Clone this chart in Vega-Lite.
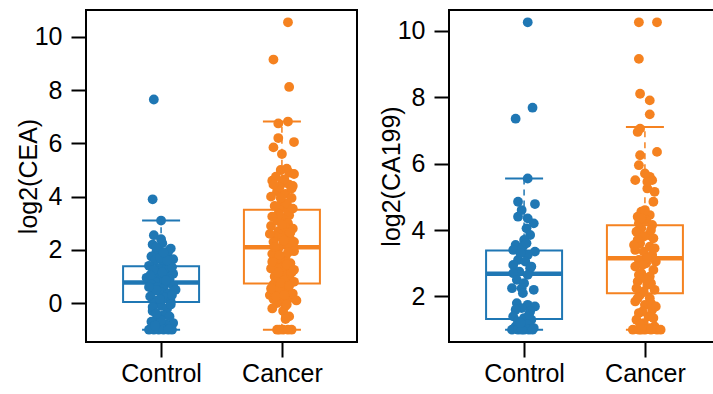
{
  "$schema": "https://vega.github.io/schema/vega-lite/v6.json",
  "autosize": {"type": "pad"},
  "padding": {"left": 15, "top": 9, "right": -8, "bottom": 0},
  "spacing": 92,
  "bounds": "flush",
  "background": "white",
  "config": {
    "view": {"stroke": "black", "strokeWidth": 2},
    "axis": {
      "labelFont": "Liberation Sans", "labelFontSize": 25, "labelColor": "black",
      "titleFont": "Liberation Sans", "titleFontSize": 25, "titleFontWeight": "normal", "titleColor": "black",
      "tickColor": "black", "tickSize": 15, "tickWidth": 2, "domain": false, "grid": false
    },
    "axisX": {"labelPadding": 4},
    "axisY": {"labelPadding": 9, "titleX": -50, "titleBaseline": "alphabetic"}
  },
  "datasets": {
    "boxes": [
      {"p": "CEA", "g": "Control", "x": 1, "lo": -1, "q1": 0.04, "med": 0.77, "q3": 1.38, "hi": 3.1},
      {"p": "CEA", "g": "Cancer", "x": 2, "lo": -1, "q1": 0.74, "med": 2.1, "q3": 3.51, "hi": 6.82},
      {"p": "CA199", "g": "Control", "x": 1, "lo": 1, "q1": 1.32, "med": 2.68, "q3": 3.38, "hi": 5.55},
      {"p": "CA199", "g": "Cancer", "x": 2, "lo": 1, "q1": 2.1, "med": 3.15, "q3": 4.14, "hi": 7.1}
    ],
    "points": [
      {"p":"CEA","g":"Control","x":0.94,"y":7.65},{"p":"CEA","g":"Control","x":0.93,"y":3.9},{"p":"CEA","g":"Control","x":1.0,"y":3.1},
      {"p":"CEA","g":"Control","x":0.94,"y":2.55},{"p":"CEA","g":"Control","x":1.0,"y":2.4},{"p":"CEA","g":"Control","x":0.93,"y":2.2},
      {"p":"CEA","g":"Control","x":1.08,"y":2.05},{"p":"CEA","g":"Control","x":0.98,"y":2.0},{"p":"CEA","g":"Control","x":0.96,"y":1.9},
      {"p":"CEA","g":"Control","x":1.05,"y":1.85},{"p":"CEA","g":"Control","x":0.92,"y":1.75},{"p":"CEA","g":"Control","x":1.1,"y":1.65},
      {"p":"CEA","g":"Control","x":0.95,"y":1.6},{"p":"CEA","g":"Control","x":1.02,"y":1.55},{"p":"CEA","g":"Control","x":1.07,"y":1.45},
      {"p":"CEA","g":"Control","x":0.9,"y":1.4},{"p":"CEA","g":"Control","x":0.98,"y":1.3},{"p":"CEA","g":"Control","x":1.04,"y":1.25},
      {"p":"CEA","g":"Control","x":0.93,"y":1.15},{"p":"CEA","g":"Control","x":1.1,"y":1.1},{"p":"CEA","g":"Control","x":0.97,"y":1.05},
      {"p":"CEA","g":"Control","x":1.03,"y":1.0},{"p":"CEA","g":"Control","x":0.88,"y":0.95},{"p":"CEA","g":"Control","x":1.07,"y":0.9},
      {"p":"CEA","g":"Control","x":0.99,"y":0.85},{"p":"CEA","g":"Control","x":0.95,"y":0.8},{"p":"CEA","g":"Control","x":1.05,"y":0.75},
      {"p":"CEA","g":"Control","x":0.92,"y":0.7},{"p":"CEA","g":"Control","x":1.1,"y":0.65},{"p":"CEA","g":"Control","x":0.97,"y":0.6},
      {"p":"CEA","g":"Control","x":1.02,"y":0.55},{"p":"CEA","g":"Control","x":1.12,"y":0.5},{"p":"CEA","g":"Control","x":0.94,"y":0.45},
      {"p":"CEA","g":"Control","x":1.0,"y":0.4},{"p":"CEA","g":"Control","x":1.06,"y":0.35},{"p":"CEA","g":"Control","x":0.91,"y":0.25},
      {"p":"CEA","g":"Control","x":1.03,"y":0.2},{"p":"CEA","g":"Control","x":0.97,"y":0.1},{"p":"CEA","g":"Control","x":1.08,"y":0.05},
      {"p":"CEA","g":"Control","x":0.95,"y":0.0},{"p":"CEA","g":"Control","x":1.0,"y":-0.1},{"p":"CEA","g":"Control","x":1.05,"y":-0.2},
      {"p":"CEA","g":"Control","x":0.93,"y":-0.3},{"p":"CEA","g":"Control","x":1.02,"y":-0.45},{"p":"CEA","g":"Control","x":0.97,"y":-0.55},
      {"p":"CEA","g":"Control","x":0.92,"y":-0.7},{"p":"CEA","g":"Control","x":1.1,"y":-0.75},{"p":"CEA","g":"Control","x":1.04,"y":-0.8},
      {"p":"CEA","g":"Control","x":0.96,"y":-0.9},{"p":"CEA","g":"Control","x":0.94,"y":-1},{"p":"CEA","g":"Control","x":0.98,"y":-1},
      {"p":"CEA","g":"Control","x":1.02,"y":-1},{"p":"CEA","g":"Control","x":1.09,"y":-1},{"p":"CEA","g":"Control","x":1.06,"y":-1},
      {"p":"CEA","g":"Control","x":0.9,"y":-1},{"p":"CEA","g":"Control","x":1.01,"y":2.25},{"p":"CEA","g":"Control","x":0.96,"y":2.1},
      {"p":"CEA","g":"Control","x":1.06,"y":1.95},{"p":"CEA","g":"Control","x":0.99,"y":1.7},{"p":"CEA","g":"Control","x":1.09,"y":1.35},
      {"p":"CEA","g":"Control","x":0.94,"y":1.25},{"p":"CEA","g":"Control","x":1.01,"y":1.15},{"p":"CEA","g":"Control","x":0.91,"y":1.05},
      {"p":"CEA","g":"Control","x":1.04,"y":0.85},{"p":"CEA","g":"Control","x":0.96,"y":0.5},{"p":"CEA","g":"Control","x":1.09,"y":0.3},
      {"p":"CEA","g":"Control","x":0.99,"y":0.15},{"p":"CEA","g":"Control","x":0.93,"y":-0.15},{"p":"CEA","g":"Control","x":1.07,"y":-0.5},
      {"p":"CEA","g":"Control","x":1.0,"y":-0.65},{"p":"CEA","g":"Control","x":0.95,"y":-0.85},
      {"p":"CEA","g":"Control","x":1.05,"y":1.6},{"p":"CEA","g":"Control","x":0.9,"y":0.6},{"p":"CEA","g":"Control","x":1.08,"y":-0.05},
      {"p":"CEA","g":"Control","x":0.96,"y":-0.4},{"p":"CEA","g":"Control","x":1.02,"y":1.9},

      {"p":"CEA","g":"Cancer","x":2.05,"y":10.55},{"p":"CEA","g":"Cancer","x":1.93,"y":9.15},{"p":"CEA","g":"Cancer","x":2.06,"y":8.12},
      {"p":"CEA","g":"Cancer","x":2.05,"y":6.82},{"p":"CEA","g":"Cancer","x":1.97,"y":6.75},{"p":"CEA","g":"Cancer","x":1.97,"y":6.2},
      {"p":"CEA","g":"Cancer","x":2.1,"y":6.05},{"p":"CEA","g":"Cancer","x":1.93,"y":5.85},{"p":"CEA","g":"Cancer","x":2.0,"y":5.6},
      {"p":"CEA","g":"Cancer","x":1.99,"y":5.0},{"p":"CEA","g":"Cancer","x":2.04,"y":5.05},{"p":"CEA","g":"Cancer","x":2.06,"y":4.9},
      {"p":"CEA","g":"Cancer","x":1.92,"y":4.6},{"p":"CEA","g":"Cancer","x":2.0,"y":4.5},{"p":"CEA","g":"Cancer","x":2.06,"y":4.45},
      {"p":"CEA","g":"Cancer","x":2.09,"y":4.4},{"p":"CEA","g":"Cancer","x":1.96,"y":4.2},{"p":"CEA","g":"Cancer","x":2.03,"y":4.1},
      {"p":"CEA","g":"Cancer","x":1.91,"y":4.0},{"p":"CEA","g":"Cancer","x":2.08,"y":3.95},{"p":"CEA","g":"Cancer","x":2.0,"y":3.8},
      {"p":"CEA","g":"Cancer","x":2.02,"y":3.6},{"p":"CEA","g":"Cancer","x":1.98,"y":3.5},{"p":"CEA","g":"Cancer","x":2.06,"y":3.3},
      {"p":"CEA","g":"Cancer","x":2.01,"y":3.2},{"p":"CEA","g":"Cancer","x":2.05,"y":3.0},{"p":"CEA","g":"Cancer","x":1.91,"y":2.9},
      {"p":"CEA","g":"Cancer","x":2.09,"y":2.8},{"p":"CEA","g":"Cancer","x":1.97,"y":2.7},{"p":"CEA","g":"Cancer","x":2.04,"y":2.6},
      {"p":"CEA","g":"Cancer","x":1.95,"y":2.5},{"p":"CEA","g":"Cancer","x":2.07,"y":2.4},{"p":"CEA","g":"Cancer","x":1.93,"y":2.3},
      {"p":"CEA","g":"Cancer","x":2.01,"y":2.25},{"p":"CEA","g":"Cancer","x":2.06,"y":2.15},{"p":"CEA","g":"Cancer","x":1.97,"y":2.05},
      {"p":"CEA","g":"Cancer","x":2.1,"y":1.95},{"p":"CEA","g":"Cancer","x":1.92,"y":1.85},{"p":"CEA","g":"Cancer","x":2.03,"y":1.75},
      {"p":"CEA","g":"Cancer","x":1.99,"y":1.6},{"p":"CEA","g":"Cancer","x":2.07,"y":1.5},{"p":"CEA","g":"Cancer","x":1.95,"y":1.4},
      {"p":"CEA","g":"Cancer","x":1.91,"y":1.3},{"p":"CEA","g":"Cancer","x":2.03,"y":1.2},{"p":"CEA","g":"Cancer","x":2.0,"y":1.1},
      {"p":"CEA","g":"Cancer","x":2.06,"y":1.0},{"p":"CEA","g":"Cancer","x":1.96,"y":0.9},{"p":"CEA","g":"Cancer","x":2.1,"y":0.8},
      {"p":"CEA","g":"Cancer","x":1.93,"y":0.7},{"p":"CEA","g":"Cancer","x":2.01,"y":0.6},{"p":"CEA","g":"Cancer","x":2.05,"y":0.5},
      {"p":"CEA","g":"Cancer","x":1.97,"y":0.4},{"p":"CEA","g":"Cancer","x":1.9,"y":0.3},{"p":"CEA","g":"Cancer","x":2.07,"y":0.2},
      {"p":"CEA","g":"Cancer","x":2.0,"y":0.1},{"p":"CEA","g":"Cancer","x":1.96,"y":0.0},{"p":"CEA","g":"Cancer","x":2.03,"y":-0.1},
      {"p":"CEA","g":"Cancer","x":1.92,"y":-0.2},{"p":"CEA","g":"Cancer","x":2.01,"y":-0.3},{"p":"CEA","g":"Cancer","x":2.06,"y":-0.5},
      {"p":"CEA","g":"Cancer","x":2.03,"y":-0.6},{"p":"CEA","g":"Cancer","x":1.96,"y":-1},{"p":"CEA","g":"Cancer","x":2.01,"y":-1},
      {"p":"CEA","g":"Cancer","x":2.08,"y":-1},{"p":"CEA","g":"Cancer","x":1.98,"y":-1},{"p":"CEA","g":"Cancer","x":2.05,"y":-1},
      {"p":"CEA","g":"Cancer","x":1.95,"y":4.75},{"p":"CEA","g":"Cancer","x":2.02,"y":4.65},{"p":"CEA","g":"Cancer","x":2.08,"y":4.3},
      {"p":"CEA","g":"Cancer","x":1.94,"y":3.65},{"p":"CEA","g":"Cancer","x":2.05,"y":3.45},{"p":"CEA","g":"Cancer","x":1.96,"y":3.1},
      {"p":"CEA","g":"Cancer","x":2.03,"y":2.85},{"p":"CEA","g":"Cancer","x":2.0,"y":2.45},{"p":"CEA","g":"Cancer","x":1.94,"y":2.1},
      {"p":"CEA","g":"Cancer","x":2.05,"y":1.9},{"p":"CEA","g":"Cancer","x":2.0,"y":1.35},{"p":"CEA","g":"Cancer","x":2.08,"y":1.15},
      {"p":"CEA","g":"Cancer","x":1.94,"y":1.0},{"p":"CEA","g":"Cancer","x":2.02,"y":0.85},{"p":"CEA","g":"Cancer","x":1.98,"y":0.55},
      {"p":"CEA","g":"Cancer","x":2.09,"y":0.35},{"p":"CEA","g":"Cancer","x":1.93,"y":0.15},{"p":"CEA","g":"Cancer","x":2.04,"y":-0.05},
      {"p":"CEA","g":"Cancer","x":1.98,"y":4.35},{"p":"CEA","g":"Cancer","x":2.04,"y":3.75},{"p":"CEA","g":"Cancer","x":1.97,"y":3.35},
      {"p":"CEA","g":"Cancer","x":2.07,"y":2.65},{"p":"CEA","g":"Cancer","x":2.02,"y":2.35},{"p":"CEA","g":"Cancer","x":1.96,"y":1.65},
      {"p":"CEA","g":"Cancer","x":2.04,"y":1.45},{"p":"CEA","g":"Cancer","x":1.99,"y":0.75},{"p":"CEA","g":"Cancer","x":2.06,"y":0.65},
      {"p":"CEA","g":"Cancer","x":1.95,"y":0.25},
      {"p":"CEA","g":"Cancer","x":2.1,"y":4.85},{"p":"CEA","g":"Cancer","x":1.93,"y":4.45},{"p":"CEA","g":"Cancer","x":1.99,"y":3.95},
      {"p":"CEA","g":"Cancer","x":2.09,"y":3.55},{"p":"CEA","g":"Cancer","x":1.92,"y":3.25},{"p":"CEA","g":"Cancer","x":2.0,"y":2.95},
      {"p":"CEA","g":"Cancer","x":1.9,"y":2.6},{"p":"CEA","g":"Cancer","x":2.1,"y":2.3},{"p":"CEA","g":"Cancer","x":1.98,"y":1.8},
      {"p":"CEA","g":"Cancer","x":1.92,"y":1.55},{"p":"CEA","g":"Cancer","x":2.1,"y":1.25},{"p":"CEA","g":"Cancer","x":1.97,"y":1.15},
      {"p":"CEA","g":"Cancer","x":2.12,"y":0.1},{"p":"CEA","g":"Cancer","x":1.91,"y":0.55},{"p":"CEA","g":"Cancer","x":2.02,"y":0.3},

      {"p":"CA199","g":"Control","x":1.03,"y":10.25},{"p":"CA199","g":"Control","x":0.93,"y":7.35},{"p":"CA199","g":"Control","x":1.07,"y":7.68},
      {"p":"CA199","g":"Control","x":1.03,"y":5.55},{"p":"CA199","g":"Control","x":0.95,"y":4.85},{"p":"CA199","g":"Control","x":1.09,"y":4.78},
      {"p":"CA199","g":"Control","x":0.98,"y":4.6},{"p":"CA199","g":"Control","x":0.95,"y":4.4},{"p":"CA199","g":"Control","x":1.03,"y":4.35},
      {"p":"CA199","g":"Control","x":1.08,"y":4.2},{"p":"CA199","g":"Control","x":1.02,"y":4.05},{"p":"CA199","g":"Control","x":1.05,"y":3.85},
      {"p":"CA199","g":"Control","x":1.0,"y":3.7},{"p":"CA199","g":"Control","x":0.93,"y":3.55},{"p":"CA199","g":"Control","x":0.99,"y":3.5},
      {"p":"CA199","g":"Control","x":0.91,"y":3.4},{"p":"CA199","g":"Control","x":1.09,"y":3.35},{"p":"CA199","g":"Control","x":1.03,"y":3.25},
      {"p":"CA199","g":"Control","x":0.95,"y":3.1},{"p":"CA199","g":"Control","x":1.01,"y":3.05},{"p":"CA199","g":"Control","x":0.91,"y":2.95},
      {"p":"CA199","g":"Control","x":1.05,"y":2.85},{"p":"CA199","g":"Control","x":0.96,"y":2.75},{"p":"CA199","g":"Control","x":0.91,"y":2.7},
      {"p":"CA199","g":"Control","x":1.03,"y":2.65},{"p":"CA199","g":"Control","x":0.94,"y":2.5},{"p":"CA199","g":"Control","x":1.0,"y":2.4},
      {"p":"CA199","g":"Control","x":0.9,"y":2.25},{"p":"CA199","g":"Control","x":0.98,"y":2.25},{"p":"CA199","g":"Control","x":1.08,"y":2.2},
      {"p":"CA199","g":"Control","x":0.94,"y":1.8},{"p":"CA199","g":"Control","x":1.03,"y":1.75},{"p":"CA199","g":"Control","x":1.09,"y":1.7},
      {"p":"CA199","g":"Control","x":0.98,"y":1.65},{"p":"CA199","g":"Control","x":0.93,"y":1.6},{"p":"CA199","g":"Control","x":1.05,"y":1.55},
      {"p":"CA199","g":"Control","x":0.91,"y":1.4},{"p":"CA199","g":"Control","x":1.0,"y":1.35},{"p":"CA199","g":"Control","x":1.06,"y":1.3},
      {"p":"CA199","g":"Control","x":0.95,"y":1.25},{"p":"CA199","g":"Control","x":1.03,"y":1.15},{"p":"CA199","g":"Control","x":0.93,"y":1.1},
      {"p":"CA199","g":"Control","x":1.08,"y":1.05},{"p":"CA199","g":"Control","x":0.9,"y":1.0},{"p":"CA199","g":"Control","x":0.95,"y":1.0},
      {"p":"CA199","g":"Control","x":1.0,"y":1.0},{"p":"CA199","g":"Control","x":1.04,"y":1.0},{"p":"CA199","g":"Control","x":1.07,"y":1.0},
      {"p":"CA199","g":"Control","x":0.98,"y":1.0},{"p":"CA199","g":"Control","x":1.02,"y":3.6},{"p":"CA199","g":"Control","x":0.97,"y":3.3},
      {"p":"CA199","g":"Control","x":1.06,"y":2.9},{"p":"CA199","g":"Control","x":0.99,"y":2.1},{"p":"CA199","g":"Control","x":1.04,"y":1.45},
      {"p":"CA199","g":"Control","x":0.97,"y":1.2},

      {"p":"CA199","g":"Cancer","x":1.95,"y":10.25},{"p":"CA199","g":"Cancer","x":2.1,"y":10.25},{"p":"CA199","g":"Cancer","x":1.95,"y":9.15},
      {"p":"CA199","g":"Cancer","x":1.96,"y":8.1},{"p":"CA199","g":"Cancer","x":2.04,"y":7.9},{"p":"CA199","g":"Cancer","x":2.04,"y":7.48},
      {"p":"CA199","g":"Cancer","x":1.96,"y":7.05},{"p":"CA199","g":"Cancer","x":1.94,"y":6.95},{"p":"CA199","g":"Cancer","x":2.1,"y":6.35},
      {"p":"CA199","g":"Cancer","x":1.96,"y":6.25},{"p":"CA199","g":"Cancer","x":1.95,"y":5.95},{"p":"CA199","g":"Cancer","x":2.04,"y":5.6},
      {"p":"CA199","g":"Cancer","x":1.92,"y":5.5},{"p":"CA199","g":"Cancer","x":2.06,"y":5.5},{"p":"CA199","g":"Cancer","x":2.02,"y":5.25},
      {"p":"CA199","g":"Cancer","x":2.08,"y":5.15},{"p":"CA199","g":"Cancer","x":2.07,"y":4.85},{"p":"CA199","g":"Cancer","x":1.97,"y":4.55},
      {"p":"CA199","g":"Cancer","x":2.04,"y":4.45},{"p":"CA199","g":"Cancer","x":1.94,"y":4.4},{"p":"CA199","g":"Cancer","x":2.01,"y":4.3},
      {"p":"CA199","g":"Cancer","x":2.06,"y":4.15},{"p":"CA199","g":"Cancer","x":1.97,"y":4.05},{"p":"CA199","g":"Cancer","x":1.93,"y":3.95},
      {"p":"CA199","g":"Cancer","x":2.03,"y":3.85},{"p":"CA199","g":"Cancer","x":2.07,"y":3.75},{"p":"CA199","g":"Cancer","x":1.96,"y":3.6},
      {"p":"CA199","g":"Cancer","x":2.04,"y":3.5},{"p":"CA199","g":"Cancer","x":1.92,"y":3.4},{"p":"CA199","g":"Cancer","x":1.99,"y":3.35},
      {"p":"CA199","g":"Cancer","x":2.06,"y":3.25},{"p":"CA199","g":"Cancer","x":1.95,"y":3.1},{"p":"CA199","g":"Cancer","x":2.01,"y":3.0},
      {"p":"CA199","g":"Cancer","x":1.92,"y":2.9},{"p":"CA199","g":"Cancer","x":2.07,"y":2.8},{"p":"CA199","g":"Cancer","x":1.97,"y":2.7},
      {"p":"CA199","g":"Cancer","x":2.04,"y":2.6},{"p":"CA199","g":"Cancer","x":1.94,"y":2.45},{"p":"CA199","g":"Cancer","x":2.02,"y":2.35},
      {"p":"CA199","g":"Cancer","x":2.08,"y":2.2},{"p":"CA199","g":"Cancer","x":1.96,"y":2.05},{"p":"CA199","g":"Cancer","x":2.04,"y":1.95},
      {"p":"CA199","g":"Cancer","x":1.92,"y":1.85},{"p":"CA199","g":"Cancer","x":2.0,"y":1.75},{"p":"CA199","g":"Cancer","x":2.06,"y":1.6},
      {"p":"CA199","g":"Cancer","x":1.95,"y":1.5},{"p":"CA199","g":"Cancer","x":2.03,"y":1.4},{"p":"CA199","g":"Cancer","x":1.93,"y":1.3},
      {"p":"CA199","g":"Cancer","x":1.99,"y":1.2},{"p":"CA199","g":"Cancer","x":2.08,"y":1.1},{"p":"CA199","g":"Cancer","x":2.04,"y":1.05},
      {"p":"CA199","g":"Cancer","x":1.9,"y":1.0},{"p":"CA199","g":"Cancer","x":1.95,"y":1.0},{"p":"CA199","g":"Cancer","x":2.0,"y":1.0},
      {"p":"CA199","g":"Cancer","x":2.05,"y":1.0},{"p":"CA199","g":"Cancer","x":2.1,"y":1.0},{"p":"CA199","g":"Cancer","x":2.13,"y":1.0},
      {"p":"CA199","g":"Cancer","x":1.97,"y":1.0},{"p":"CA199","g":"Cancer","x":2.0,"y":4.6},{"p":"CA199","g":"Cancer","x":1.95,"y":4.2},
      {"p":"CA199","g":"Cancer","x":2.05,"y":4.0},{"p":"CA199","g":"Cancer","x":1.99,"y":3.8},{"p":"CA199","g":"Cancer","x":1.94,"y":3.7},
      {"p":"CA199","g":"Cancer","x":2.08,"y":3.45},{"p":"CA199","g":"Cancer","x":2.02,"y":3.15},{"p":"CA199","g":"Cancer","x":1.98,"y":2.95},
      {"p":"CA199","g":"Cancer","x":1.95,"y":2.65},{"p":"CA199","g":"Cancer","x":2.05,"y":2.4},{"p":"CA199","g":"Cancer","x":1.99,"y":2.15},
      {"p":"CA199","g":"Cancer","x":1.94,"y":1.95},{"p":"CA199","g":"Cancer","x":2.05,"y":1.8},{"p":"CA199","g":"Cancer","x":1.98,"y":1.55},
      {"p":"CA199","g":"Cancer","x":2.07,"y":1.35},{"p":"CA199","g":"Cancer","x":1.96,"y":1.15},{"p":"CA199","g":"Cancer","x":2.02,"y":5.45},
      {"p":"CA199","g":"Cancer","x":2.0,"y":5.7},
      {"p":"CA199","g":"Cancer","x":1.91,"y":3.55},{"p":"CA199","g":"Cancer","x":2.09,"y":3.05},{"p":"CA199","g":"Cancer","x":1.93,"y":2.25},
      {"p":"CA199","g":"Cancer","x":2.09,"y":1.7},{"p":"CA199","g":"Cancer","x":2.01,"y":2.5},{"p":"CA199","g":"Cancer","x":1.97,"y":4.35}
    ]
  },
  "hconcat": [
    {
      "width": 271,
      "height": 332,
      "encoding": {
        "x": {"type": "quantitative", "scale": {"domain": [0.42, 2.58], "nice": false, "zero": false},
              "axis": {"values": [1, 2], "title": null, "labelExpr": "datum.value == 1 ? 'Control' : 'Cancer'"}},
        "color": {"field": "g", "type": "nominal", "scale": {"domain": ["Control", "Cancer"], "range": ["#1f77b4", "#f58220"]}, "legend": null}
      },
      "layer": [
        {
          "data": {"name": "boxes"},
          "transform": [{"filter": "datum.p === 'CEA'"}],
          "encoding": {
            "x": {"field": "x", "type": "quantitative"}
          },
          "layer": [
            {"mark": {"type": "rule", "strokeDash": [6, 5], "strokeWidth": 1.5},
             "encoding": {"y": {"field": "q3", "type": "quantitative", "scale": {"domain": [-1.462, 11.012], "nice": false, "zero": false},
                                "axis": {"values": [0, 2, 4, 6, 8, 10], "title": "log2(CEA)"}},
                          "y2": {"field": "hi"}}},
            {"mark": {"type": "rule", "strokeDash": [6, 5], "strokeWidth": 1.5},
             "encoding": {"y": {"field": "lo", "type": "quantitative"}, "y2": {"field": "q1"}}},
            {"mark": {"type": "bar", "size": 76, "filled": false, "strokeWidth": 2},
             "encoding": {"y": {"field": "q3", "type": "quantitative"}, "y2": {"field": "q1"}}},
            {"mark": {"type": "tick", "orient": "horizontal", "size": 76, "thickness": 4.5, "opacity": 1},
             "encoding": {"y": {"field": "med", "type": "quantitative"}}},
            {"mark": {"type": "tick", "orient": "horizontal", "size": 38, "thickness": 2, "opacity": 1},
             "encoding": {"y": {"field": "hi", "type": "quantitative"}}},
            {"mark": {"type": "tick", "orient": "horizontal", "size": 38, "thickness": 2, "opacity": 1},
             "encoding": {"y": {"field": "lo", "type": "quantitative"}}}
          ]
        },
        {
          "data": {"name": "points"},
          "transform": [{"filter": "datum.p === 'CEA'"}],
          "mark": {"type": "circle", "size": 96, "opacity": 1},
          "encoding": {
            "x": {"field": "x", "type": "quantitative"},
            "y": {"field": "y", "type": "quantitative"}
          }
        }
      ]
    },
    {
      "width": 271,
      "height": 332,
      "encoding": {
        "x": {"type": "quantitative", "scale": {"domain": [0.42, 2.58], "nice": false, "zero": false},
              "axis": {"values": [1, 2], "title": null, "labelExpr": "datum.value == 1 ? 'Control' : 'Cancer'"}},
        "color": {"field": "g", "type": "nominal", "scale": {"domain": ["Control", "Cancer"], "range": ["#1f77b4", "#f58220"]}, "legend": null}
      },
      "layer": [
        {
          "data": {"name": "boxes"},
          "transform": [{"filter": "datum.p === 'CA199'"}],
          "encoding": {
            "x": {"field": "x", "type": "quantitative"}
          },
          "layer": [
            {"mark": {"type": "rule", "strokeDash": [6, 5], "strokeWidth": 1.5},
             "encoding": {"y": {"field": "q3", "type": "quantitative", "scale": {"domain": [0.63, 10.62], "nice": false, "zero": false},
                                "axis": {"values": [2, 4, 6, 8, 10], "title": "log2(CA199)"}},
                          "y2": {"field": "hi"}}},
            {"mark": {"type": "rule", "strokeDash": [6, 5], "strokeWidth": 1.5},
             "encoding": {"y": {"field": "lo", "type": "quantitative"}, "y2": {"field": "q1"}}},
            {"mark": {"type": "bar", "size": 76, "filled": false, "strokeWidth": 2},
             "encoding": {"y": {"field": "q3", "type": "quantitative"}, "y2": {"field": "q1"}}},
            {"mark": {"type": "tick", "orient": "horizontal", "size": 76, "thickness": 4.5, "opacity": 1},
             "encoding": {"y": {"field": "med", "type": "quantitative"}}},
            {"mark": {"type": "tick", "orient": "horizontal", "size": 38, "thickness": 2, "opacity": 1},
             "encoding": {"y": {"field": "hi", "type": "quantitative"}}},
            {"mark": {"type": "tick", "orient": "horizontal", "size": 38, "thickness": 2, "opacity": 1},
             "encoding": {"y": {"field": "lo", "type": "quantitative"}}}
          ]
        },
        {
          "data": {"name": "points"},
          "transform": [{"filter": "datum.p === 'CA199'"}],
          "mark": {"type": "circle", "size": 96, "opacity": 1},
          "encoding": {
            "x": {"field": "x", "type": "quantitative"},
            "y": {"field": "y", "type": "quantitative"}
          }
        }
      ]
    }
  ]
}
